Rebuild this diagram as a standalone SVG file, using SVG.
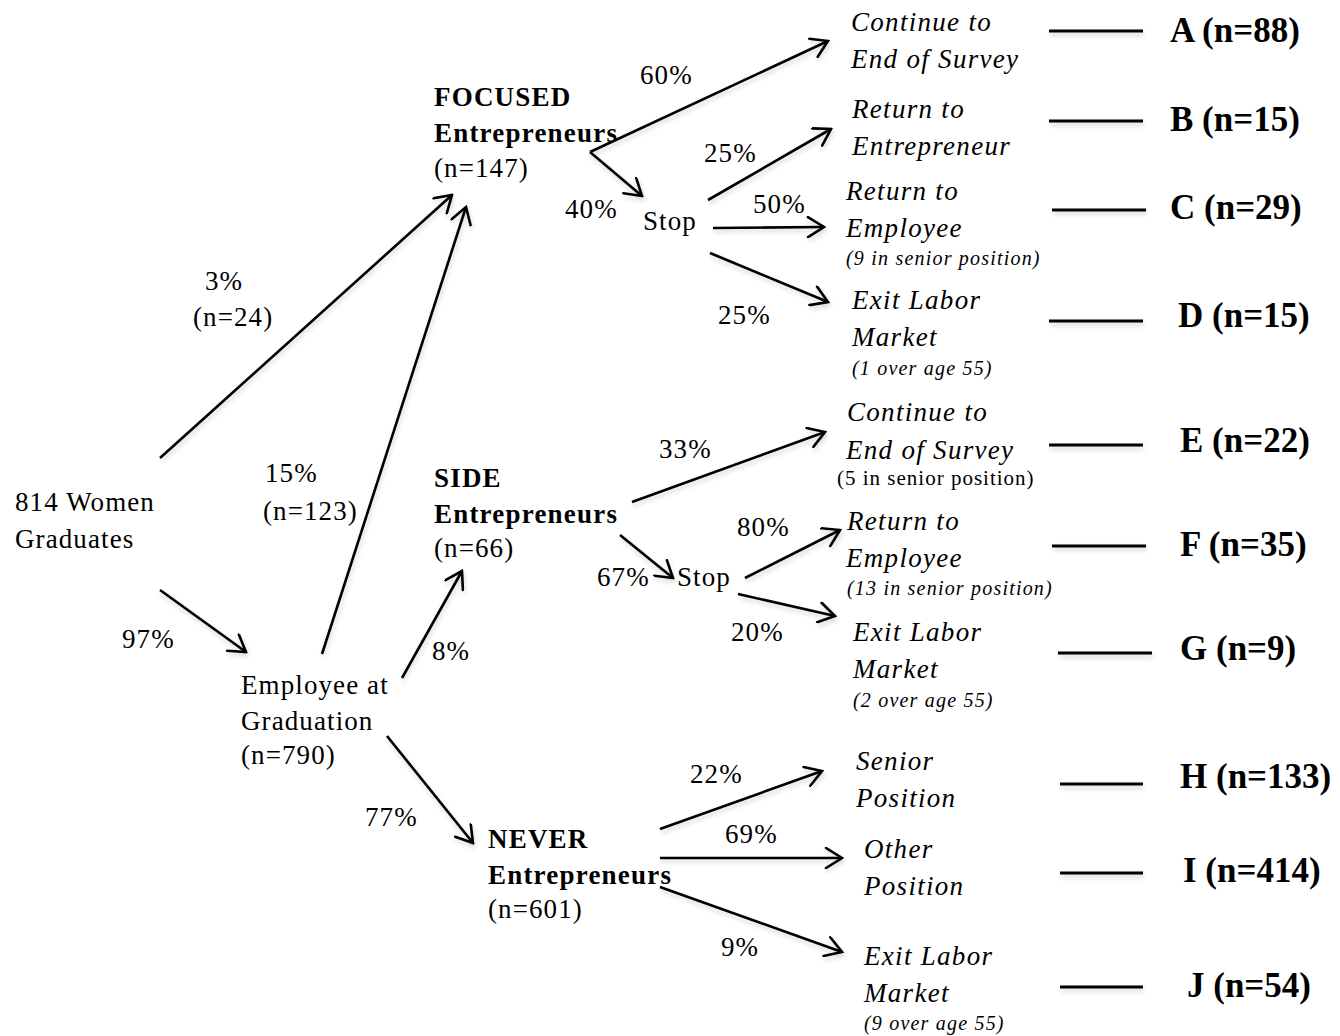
<svg xmlns="http://www.w3.org/2000/svg" width="1340" height="1036" viewBox="0 0 1340 1036">
<defs>
<marker id="arr" viewBox="0 0 22 22" refX="20" refY="11" markerWidth="22" markerHeight="22" markerUnits="userSpaceOnUse" orient="auto">
<path d="M4,1 L20,11 L4,21" fill="none" stroke="#000" stroke-width="2.6" stroke-linecap="round" stroke-linejoin="miter"/>
</marker>
<filter id="sh" x="-10%" y="-10%" width="120%" height="130%">
<feGaussianBlur in="SourceAlpha" stdDeviation="2.5"/>
<feOffset dx="1" dy="3" result="b"/>
<feComponentTransfer><feFuncA type="linear" slope="0.18"/></feComponentTransfer>
<feMerge><feMergeNode/><feMergeNode in="SourceGraphic"/></feMerge>
</filter>
</defs>
<style>
text{font-family:"Liberation Serif","Times New Roman",serif;fill:#000}
.t{font-size:27px;letter-spacing:1.1px}
.b{font-size:27px;font-weight:bold;letter-spacing:1.2px}
.i{font-size:27px;font-style:italic;letter-spacing:1.3px}
.s{font-size:20px;font-style:italic;letter-spacing:1.2px}
.u{font-size:21px;letter-spacing:1px}
.L{font-size:35px;font-weight:bold;letter-spacing:0px}
.c{stroke:#000;stroke-width:2.6;fill:none;marker-end:url(#arr)}
.r{stroke:#000;stroke-width:2.8;fill:none}
</style>
<rect width="1340" height="1036" fill="#fff"/>

<g id="connectors" filter="url(#sh)">
<line class="c" x1="160" y1="458" x2="452" y2="195"/>
<line class="c" x1="160" y1="590" x2="246" y2="652"/>
<line class="c" x1="322" y1="654" x2="466" y2="207"/>
<line class="c" x1="402" y1="678" x2="462" y2="571"/>
<line class="c" x1="387" y1="736" x2="473" y2="843"/>
<line class="c" x1="590" y1="152" x2="828" y2="41"/>
<line class="c" x1="590" y1="152" x2="642" y2="196"/>
<line class="c" x1="708" y1="200" x2="831" y2="129"/>
<line class="c" x1="713" y1="228" x2="824" y2="227"/>
<line class="c" x1="710" y1="253" x2="828" y2="302"/>
<line class="c" x1="632" y1="502" x2="825" y2="432"/>
<line class="c" x1="620" y1="535" x2="673" y2="578"/>
<line class="c" x1="745" y1="578" x2="840" y2="530"/>
<line class="c" x1="738" y1="594" x2="835" y2="616"/>
<line class="c" x1="660" y1="829" x2="822" y2="771"/>
<line class="c" x1="660" y1="858" x2="842" y2="858"/>
<line class="c" x1="660" y1="887" x2="842" y2="952"/>
<line class="r" x1="1049" y1="31" x2="1143" y2="31"/>
<line class="r" x1="1049" y1="121" x2="1143" y2="121"/>
<line class="r" x1="1052" y1="210" x2="1146" y2="210"/>
<line class="r" x1="1049" y1="321" x2="1143" y2="321"/>
<line class="r" x1="1049" y1="445" x2="1143" y2="445"/>
<line class="r" x1="1052" y1="546" x2="1146" y2="546"/>
<line class="r" x1="1058" y1="653" x2="1152" y2="653"/>
<line class="r" x1="1060" y1="784" x2="1143" y2="784"/>
<line class="r" x1="1060" y1="873" x2="1143" y2="873"/>
<line class="r" x1="1060" y1="987" x2="1143" y2="987"/>
</g>

<g id="edge-labels">
<text class="t" x="205" y="290">3%</text>
<text class="t" x="193" y="326">(n=24)</text>
<text class="t" x="265" y="482">15%</text>
<text class="t" x="263" y="520">(n=123)</text>
<text class="t" x="122" y="648">97%</text>
<text class="t" x="432" y="660">8%</text>
<text class="t" x="365" y="826">77%</text>
<text class="t" x="640" y="84">60%</text>
<text class="t" x="565" y="218">40%</text>
<text class="t" x="704" y="162">25%</text>
<text class="t" x="753" y="213">50%</text>
<text class="t" x="718" y="324">25%</text>
<text class="t" x="659" y="458">33%</text>
<text class="t" x="597" y="586">67%</text>
<text class="t" x="737" y="536">80%</text>
<text class="t" x="731" y="641">20%</text>
<text class="t" x="690" y="783">22%</text>
<text class="t" x="725" y="843">69%</text>
<text class="t" x="721" y="956">9%</text>
</g>

<g id="n-women"><text class="t" x="15" y="511">814 Women</text><text class="t" x="15" y="548">Graduates</text></g>
<g id="n-employee"><text class="t" x="241" y="694">Employee at</text><text class="t" x="241" y="730">Graduation</text><text class="t" x="241" y="764">(n=790)</text></g>
<g id="n-focused"><text class="b" x="434" y="106">FOCUSED</text><text class="b" x="434" y="142">Entrepreneurs</text><text class="t" x="434" y="177">(n=147)</text></g>
<g id="n-side"><text class="b" x="434" y="487">SIDE</text><text class="b" x="434" y="523">Entrepreneurs</text><text class="t" x="434" y="557">(n=66)</text></g>
<g id="n-never"><text class="b" x="488" y="848">NEVER</text><text class="b" x="488" y="884">Entrepreneurs</text><text class="t" x="488" y="918">(n=601)</text></g>
<g id="n-stop1"><text class="t" x="643" y="230">Stop</text></g>
<g id="n-stop2"><text class="t" x="677" y="586">Stop</text></g>

<g id="o-a"><text class="i" x="851" y="31">Continue to</text><text class="i" x="851" y="68">End of Survey</text></g>
<g id="o-b"><text class="i" x="852" y="118">Return to</text><text class="i" x="852" y="155">Entrepreneur</text></g>
<g id="o-c"><text class="i" x="846" y="200">Return to</text><text class="i" x="846" y="237">Employee</text><text class="s" x="846" y="265">(9 in senior position)</text></g>
<g id="o-d"><text class="i" x="852" y="309">Exit Labor</text><text class="i" x="852" y="346">Market</text><text class="s" x="852" y="375">(1 over age 55)</text></g>
<g id="o-e"><text class="i" x="847" y="421">Continue to</text><text class="i" x="846" y="459">End of Survey</text><text class="u" x="837" y="485">(5 in senior position)</text></g>
<g id="o-f"><text class="i" x="847" y="530">Return to</text><text class="i" x="846" y="567">Employee</text><text class="s" x="847" y="595">(13 in senior position)</text></g>
<g id="o-g"><text class="i" x="853" y="641">Exit Labor</text><text class="i" x="853" y="678">Market</text><text class="s" x="853" y="707">(2 over age 55)</text></g>
<g id="o-h"><text class="i" x="856" y="770">Senior</text><text class="i" x="856" y="807">Position</text></g>
<g id="o-i"><text class="i" x="864" y="858">Other</text><text class="i" x="864" y="895">Position</text></g>
<g id="o-j"><text class="i" x="864" y="965">Exit Labor</text><text class="i" x="864" y="1002">Market</text><text class="s" x="864" y="1030">(9 over age 55)</text></g>

<g id="l-a"><text class="L" x="1170" y="42">A (n=88)</text></g>
<g id="l-b"><text class="L" x="1170" y="131">B (n=15)</text></g>
<g id="l-c"><text class="L" x="1170" y="219">C (n=29)</text></g>
<g id="l-d"><text class="L" x="1178" y="327">D (n=15)</text></g>
<g id="l-e"><text class="L" x="1180" y="452">E (n=22)</text></g>
<g id="l-f"><text class="L" x="1180" y="556">F (n=35)</text></g>
<g id="l-g"><text class="L" x="1180" y="660">G (n=9)</text></g>
<g id="l-h"><text class="L" x="1180" y="788">H (n=133)</text></g>
<g id="l-i"><text class="L" x="1183" y="882">I (n=414)</text></g>
<g id="l-j"><text class="L" x="1187" y="997">J (n=54)</text></g>
</svg>
